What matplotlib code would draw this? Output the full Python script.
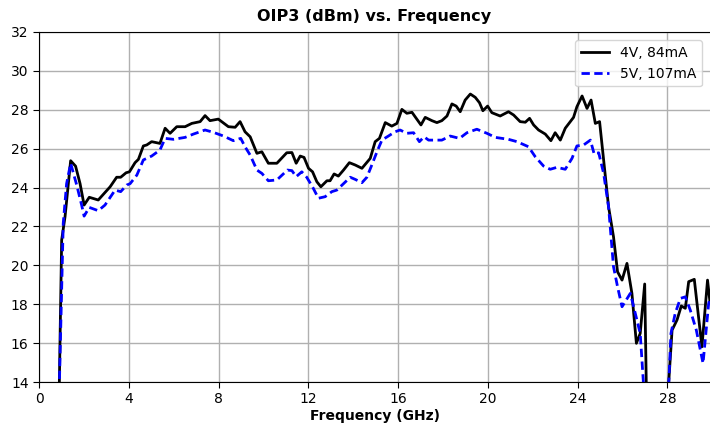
import matplotlib
matplotlib.use("Agg")
import matplotlib.pyplot as plt

# 4V, 84mA
freq_4v = [0.90, 1.01, 1.16, 1.41, 1.63, 1.83, 2.01, 2.24, 2.64, 3.17, 3.46, 3.64, 3.88, 4.03,
           4.28, 4.43, 4.65, 4.80, 5.02, 5.39, 5.62, 5.84, 6.14, 6.51, 6.81, 7.18, 7.40, 7.62,
           7.99, 8.44, 8.74, 8.96, 9.18, 9.41, 9.71, 9.93, 10.22, 10.60, 11.04, 11.27, 11.46,
           11.64, 11.81, 12.01, 12.19, 12.38, 12.56, 12.83, 12.97, 13.15, 13.34, 13.57, 13.83,
           14.09, 14.39, 14.76, 14.98, 15.17, 15.43, 15.72, 15.95, 16.17, 16.39, 16.62, 16.81,
           17.02, 17.21, 17.51, 17.73, 17.95, 18.18, 18.40, 18.59, 18.77, 18.99, 19.22, 19.44,
           19.63, 19.78, 19.99, 20.18, 20.55, 20.92, 21.15, 21.44, 21.67, 21.86, 22.04, 22.26,
           22.56, 22.81, 23.00, 23.23, 23.45, 23.82, 23.97, 24.20, 24.42, 24.60, 24.79, 24.98,
           25.38, 25.60, 25.78, 25.98, 26.20, 26.42, 26.62, 26.79, 26.99, 27.10, 27.50, 27.95,
           28.21, 28.43, 28.62, 28.80, 28.95, 29.20, 29.54, 29.79, 29.90]
oip3_4v = [13.5, 21.3, 22.5, 25.38, 25.1, 24.2, 23.1, 23.5, 23.36, 24.04, 24.53, 24.53, 24.76, 24.81,
           25.28, 25.45, 26.14, 26.19, 26.36, 26.27, 27.05, 26.79, 27.13, 27.13, 27.30, 27.39, 27.70, 27.44,
           27.52, 27.13, 27.10, 27.39, 26.87, 26.61, 25.76, 25.84, 25.25, 25.25, 25.79, 25.80, 25.25,
           25.62, 25.55, 24.99, 24.81, 24.30, 24.04, 24.35, 24.35, 24.70, 24.59, 24.90, 25.28,
           25.16, 24.99, 25.50, 26.36, 26.53, 27.34, 27.16, 27.30, 28.02, 27.82, 27.87, 27.56,
           27.22, 27.61, 27.44, 27.34, 27.44, 27.68, 28.30, 28.19, 27.90, 28.50, 28.81, 28.64,
           28.36, 27.95, 28.19, 27.85, 27.68, 27.90, 27.73, 27.39, 27.36, 27.56, 27.22, 26.96,
           26.75, 26.41, 26.82, 26.44, 27.05, 27.61, 28.16, 28.71, 28.07, 28.50, 27.30, 27.39,
           23.01, 21.47, 19.67, 19.24, 20.10, 18.56, 15.99, 16.50, 19.04, 11.0, 10.0, 12.0,
           16.67, 17.19, 17.91, 17.79, 19.16, 19.28, 15.81, 19.24, 18.1]

# 5V, 107mA
freq_5v = [0.90, 1.08, 1.23, 1.41, 1.68, 1.90, 2.01, 2.24, 2.64, 2.94, 3.39, 3.64, 3.91, 4.06,
           4.36, 4.65, 5.02, 5.39, 5.62, 5.99, 6.51, 6.88, 7.40, 7.77, 8.22, 8.66, 8.99, 9.18,
           9.41, 9.71, 9.93, 10.22, 10.60, 11.07, 11.27, 11.46, 11.71, 11.93, 12.20, 12.45,
           12.75, 13.05, 13.27, 13.57, 13.87, 14.09, 14.39, 14.61, 14.83, 15.06, 15.28, 15.57,
           15.87, 16.09, 16.39, 16.69, 16.95, 17.16, 17.36, 17.95, 18.32, 18.74, 19.07, 19.51,
           19.96, 20.33, 20.92, 21.30, 21.81, 22.11, 22.48, 22.78, 23.08, 23.45, 23.75, 23.97,
           24.27, 24.57, 24.74, 24.94, 25.16, 25.38, 25.60, 25.78, 25.98, 26.35, 26.57, 26.79,
           27.10, 27.50, 27.95, 28.16, 28.35, 28.58, 28.80, 29.02, 29.29, 29.59, 29.84, 29.90]
oip3_5v = [13.5, 22.16, 24.2, 25.25, 24.13, 23.1, 22.53, 22.98, 22.81, 23.1, 23.87, 23.79, 24.13, 24.2,
           24.64, 25.42, 25.62, 25.93, 26.53, 26.48, 26.58, 26.75, 26.96, 26.84, 26.65, 26.41, 26.53, 26.10,
           25.67, 24.90, 24.73, 24.35, 24.39, 24.90, 24.87, 24.56, 24.81, 24.53, 24.01, 23.45,
           23.53, 23.79, 23.87, 24.20, 24.53, 24.42, 24.25, 24.53, 25.16, 25.84, 26.44, 26.65,
           26.87, 26.96, 26.79, 26.82, 26.36, 26.61, 26.44, 26.44, 26.65, 26.53, 26.82, 27.00,
           26.79, 26.58, 26.48, 26.36, 26.10, 25.59, 25.11, 24.94, 25.04, 24.94, 25.50, 26.14,
           26.19, 26.44, 25.72, 25.79, 24.73, 23.01, 19.93, 18.90, 17.87, 18.56, 17.53, 16.50,
           11.0, 10.0, 11.0, 16.50, 17.53, 18.30, 18.38, 17.70, 16.67, 14.96, 18.04, 18.3]

series_labels = ["4V, 84mA", "5V, 107mA"]
x_ticks = [0, 4, 8, 12, 16, 20, 24, 28]
y_ticks = [14, 16, 18, 20, 22, 24, 26, 28, 30, 32]

fig = plt.figure(figsize=(7.10, 4.36), dpi=100)
ax = fig.add_axes([39 / 710, 1 - 382 / 436, 1 - 39 / 710, (382 - 32) / 436])

ax.plot(freq_4v, oip3_4v, color="black", lw=2, label=series_labels[0])
ax.plot(freq_5v, oip3_5v, color="blue", lw=2, ls=(0, (3, 1.6)), label=series_labels[1])

ax.set_xlim(0, 29.9)
ax.set_ylim(14, 32)
ax.set_xticks(x_ticks)
ax.set_yticks(y_ticks)
ax.grid(True, color="#b0b0b0", lw=1)
ax.set_axisbelow(True)
ax.spines["right"].set_visible(False)
ax.tick_params(labelsize=10, length=4)

ax.set_xlabel("Frequency (GHz)", fontweight="bold", fontsize=10, labelpad=2)
ax.set_title("OIP3 (dBm) vs. Frequency", fontweight="bold", fontsize=11.5, pad=8)
ax.legend(loc="upper right", fontsize=10, framealpha=0.8, borderaxespad=0.6)

fig.savefig("out.png", dpi=100)
